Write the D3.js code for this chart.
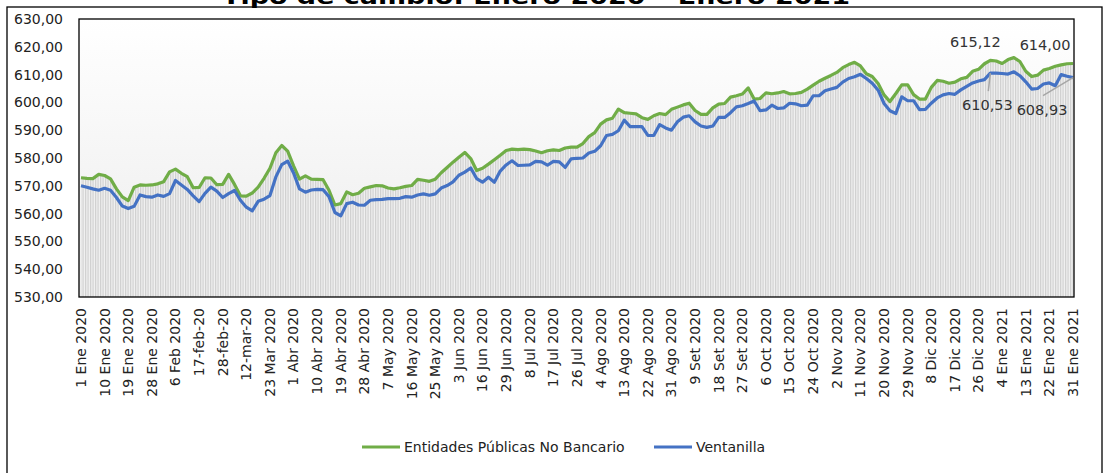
<!DOCTYPE html>
<html><head><meta charset="utf-8">
<script src="https://cdn.jsdelivr.net/npm/d3@7"></script>
<style>html,body{margin:0;padding:0;background:#fff;overflow:hidden}text{font-family:"DejaVu Sans",sans-serif}</style>
</head><body>
<svg id="c" width="1105" height="473"></svg>
<script>
const title = "Tipo de cambio: Enero 2020 – Enero 2021";
const tickLabels = ["1 Ene 2020","10 Ene 2020","19 Ene 2020","28 Ene 2020","6 Feb 2020","17-feb-20","28-feb-20","12-mar-20","23 Mar 2020","1 Abr 2020","10 Abr 2020","19 Abr 2020","28 Abr 2020","7 May 2020","16 May 2020","25 May 2020","3 Jun 2020","16 Jun 2020","29 Jun 2020","8 Jul 2020","17 Jul 2020","26 Jul 2020","4 Ago 2020","13 Ago 2020","22 Ago 2020","31 Ago 2020","9 Set 2020","18 Set 2020","27 Set 2020","6 Oct 2020","15 Oct 2020","24 Oct 2020","2 Nov 2020","11 Nov 2020","20 Nov 2020","29 Nov 2020","8 Dic 2020","17 Dic 2020","26 Dic 2020","4 Ene 2021","13 Ene 2021","22 Ene 2021","31 Ene 2021"];
const pointsPerLabel = 4;
const yTicks = [530,540,550,560,570,580,590,600,610,620,630];
const seriesNames = ["Entidades Públicas No Bancario","Ventanilla"];
const entidades = [572.9,572.7,572.6,574.1,573.7,572.5,568.9,566.0,564.7,569.5,570.3,570.2,570.3,570.7,571.5,575.0,576.0,574.5,573.3,569.3,
569.4,572.9,572.8,570.4,570.5,574.1,570.5,566.4,566.3,567.4,569.5,572.7,576.3,581.9,584.5,582.5,577.2,572.4,573.6,572.4,
572.3,572.2,568.4,563.1,563.6,567.8,566.8,567.3,569.1,569.6,570.1,570.0,569.2,568.9,569.3,569.8,570.1,572.3,572.0,571.6,
572.4,574.7,576.6,578.5,580.3,582.0,579.8,575.5,576.3,577.8,579.4,581.0,582.7,583.2,583.0,583.2,583.0,582.5,581.9,582.6,
582.9,582.7,583.6,583.9,583.9,585.2,587.7,589.1,592.2,593.7,594.3,597.6,596.3,596.1,595.9,594.5,593.9,595.2,596.0,595.6,
597.5,598.3,599.1,599.7,597.1,595.7,595.7,598.0,599.4,599.6,601.9,602.4,603.0,605.2,601.2,601.4,603.4,603.1,603.4,603.9,
603.1,603.2,603.6,604.8,606.2,607.6,608.7,609.7,610.8,612.5,613.6,614.4,613.1,610.3,609.3,606.8,602.7,600.3,603.2,606.3,
606.3,602.8,601.2,601.2,605.4,607.9,607.6,606.9,607.3,608.5,609.0,611.2,611.9,613.9,615.12,614.9,614.0,615.4,616.1,614.7,
611.2,609.3,609.8,611.6,612.2,613.0,613.5,613.9,614.00];
const ventanilla = [570.0,569.5,568.9,568.4,569.1,568.4,565.8,562.7,561.8,562.6,566.7,566.1,565.9,566.7,566.2,567.2,571.9,570.3,568.7,566.4,
564.3,567.3,569.5,568.1,565.8,567.2,568.3,564.8,562.3,561.0,564.4,565.2,566.5,573.2,577.6,578.9,574.6,568.9,567.7,568.5,
568.7,568.6,566.1,560.4,559.2,563.6,564.1,563.1,563.0,564.8,565.0,565.1,565.4,565.4,565.5,566.1,565.9,566.7,567.1,566.6,
567.1,569.2,570.1,571.4,573.8,574.9,576.4,572.6,571.3,573.1,571.3,575.3,577.5,579.0,577.3,577.4,577.5,578.8,578.6,577.4,
578.8,578.6,576.6,579.7,579.9,580.0,581.8,582.4,584.4,588.1,588.5,589.8,593.6,591.3,591.3,591.3,588.1,588.1,592.0,590.8,
590.0,593.0,594.7,595.2,593.0,591.5,591.0,591.5,594.6,594.6,596.3,598.4,598.8,599.6,600.5,597.0,597.3,599.0,597.8,598.0,
599.7,599.5,598.8,599.0,602.4,602.4,604.2,604.8,605.4,607.3,608.6,609.2,610.1,608.6,606.9,604.4,599.6,597.0,596.0,602.0,
600.6,600.6,597.4,597.5,599.7,601.6,602.7,603.2,602.9,604.5,605.8,607.0,607.7,608.2,610.53,610.5,610.4,610.2,611.0,609.6,
607.4,604.8,605.0,606.6,607.0,606.0,610.0,609.4,608.93];
const annotations = [
  {series:0, index:154, text:"615,12"},
  {series:0, index:168, text:"614,00"},
  {series:1, index:154, text:"610,53"},
  {series:1, index:168, text:"608,93"}
];
const colors = ["#70AD47","#4472C4"];

const svg = d3.select("#c");
const L=79, R=1074, T=19, B=297;
const n = entidades.length;
const x = d3.scaleLinear().domain([0,n-1]).range([L+2,R-1]);
const y = d3.scaleLinear().domain([530,630]).range([B,T]);
const defs = svg.append("defs");
const g1 = defs.append("linearGradient").attr("id","bg").attr("x1",0).attr("x2",0).attr("y1",0).attr("y2",1);
g1.append("stop").attr("offset","0%").attr("stop-color","#ffffff");
g1.append("stop").attr("offset","100%").attr("stop-color","#ececec");
const pat = defs.append("pattern").attr("id","stripes").attr("patternUnits","userSpaceOnUse").attr("width",2.5).attr("height",10);
pat.append("rect").attr("width",2.5).attr("height",10).attr("fill","#f1f1f1");
pat.append("rect").attr("width",1.2).attr("height",10).attr("fill","#cfcfcf");

// outer frame
svg.append("rect").attr("x",7).attr("y",7).attr("width",1095).attr("height",480).attr("fill","none").attr("stroke","#000").attr("stroke-width",1.3);
// title (mostly cut off at top)
svg.append("text").attr("x",536).attr("y",4).attr("text-anchor","middle").attr("font-weight","bold").attr("font-size",22)
  .attr("textLength",628).attr("lengthAdjust","spacingAndGlyphs").attr("fill","#000").text(title);

// plot background
svg.append("rect").attr("x",L).attr("y",T).attr("width",R-L).attr("height",B-T).attr("fill","url(#bg)");
// striped area under green series
const area = d3.area().x((d,i)=>x(i)).y0(B).y1(d=>y(d));
svg.append("path").datum(entidades).attr("d",area).attr("fill","url(#stripes)");

// lines
const line = d3.line().x((d,i)=>x(i)).y(d=>y(d));
[entidades, ventanilla].forEach((s,k)=>{
  svg.append("path").datum(s).attr("d",line).attr("fill","none").attr("stroke",colors[k]).attr("stroke-width",3.2).attr("stroke-linejoin","round");
});

// plot border
svg.append("rect").attr("x",L).attr("y",T).attr("width",R-L).attr("height",B-T).attr("fill","none").attr("stroke","#000").attr("stroke-width",1.3);

// y axis labels
svg.append("g").selectAll("text").data(yTicks).join("text")
  .attr("x",63).attr("y",d=>y(d)).attr("dy","0.35em").attr("text-anchor","end").attr("font-size",14).attr("fill","#222")
  .text(d=>d3.format(".2f")(d).replace(".",","));

// x axis labels
svg.append("g").selectAll("text").data(tickLabels).join("text")
  .attr("transform",(d,i)=>`translate(${x(i*pointsPerLabel)},308) rotate(-90)`)
  .attr("dy","0.35em").attr("text-anchor","end").attr("font-size",14).attr("fill","#222").text(d=>d);

// annotations
const series = [entidades, ventanilla];
annotations.forEach(a=>{
  const px = x(a.index), py = y(series[a.series][a.index]);
  if(a.series===0){
    const dx = a.index===n-1 ? -28 : -15;
    svg.append("text").attr("x",px+dx).attr("y",py-13).attr("text-anchor","middle").attr("font-size",14.5).attr("fill","#333").text(a.text);
  } else {
    const dx = a.index===n-1 ? -31 : -3;
    const lx = a.index===n-1 ? px-30 : px-2;
    svg.append("line").attr("x1",px).attr("y1",py).attr("x2",lx).attr("y2",py+18).attr("stroke","#a6a6a6").attr("stroke-width",1.5);
    svg.append("text").attr("x",px+dx).attr("y",py+37).attr("text-anchor","middle").attr("font-size",14.5).attr("fill","#333").text(a.text);
  }
});

// legend
const leg = [{x:362},{x:654}];
leg.forEach((l,k)=>{
  svg.append("line").attr("x1",l.x).attr("x2",l.x+38).attr("y1",447).attr("y2",447).attr("stroke",colors[k]).attr("stroke-width",3.2);
  svg.append("text").attr("x",l.x+42).attr("y",447).attr("dy","0.35em").attr("font-size",14).attr("fill","#222").text(seriesNames[k]);
});
</script>
</body></html>
